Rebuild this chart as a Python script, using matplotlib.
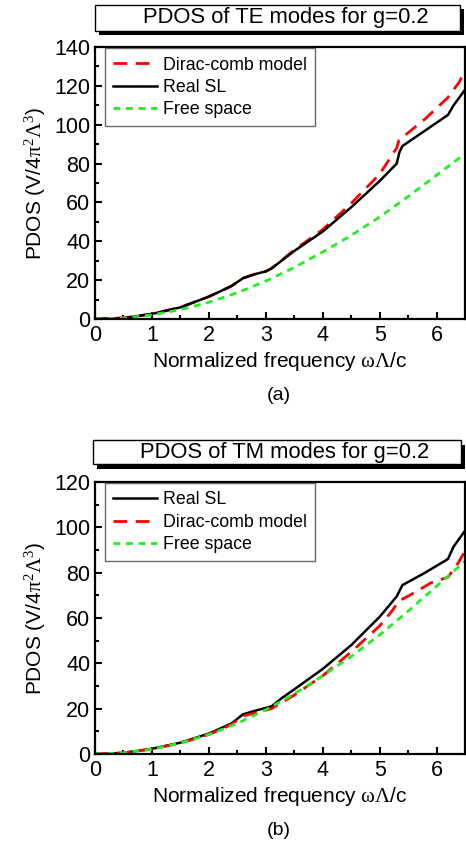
import numpy as np
import matplotlib.pyplot as plt
from matplotlib.patches import Rectangle

plt.rcParams['font.family'] = ['Liberation Sans', 'DejaVu Sans']
plt.rcParams['mathtext.fontset'] = 'custom'
plt.rcParams['mathtext.rm'] = 'Liberation Serif'
plt.rcParams['mathtext.it'] = 'Liberation Serif'

# TE panel (a)
te_w_real = [0, 0.5, 1, 1.5, 2, 2.4, 2.6, 2.8, 3.0, 3.1, 3.5, 4, 4.5, 5, 5.3, 5.35, 5.4, 5.8, 6.2, 6.3, 6.4, 6.5]
te_real = [0, 0.5, 2.6, 6, 11.5, 17, 21, 23, 24.5, 26, 35, 45, 57.5, 71, 80, 86, 89, 97, 105, 110, 114, 118]
te_w_dirac = [0, 0.5, 1, 1.5, 2, 2.4, 2.6, 2.8, 3.0, 3.1, 3.5, 4, 4.5, 5, 5.3, 5.34, 5.8, 6.2, 6.4, 6.5]
te_dirac = [0, 0.5, 2.6, 6, 11.5, 17, 21, 23, 24.5, 26, 35.5, 46, 59.5, 74.5, 88, 92, 103, 114, 122, 128]

# TM panel (b)
tm_w_real = [0, 0.5, 1, 1.5, 2, 2.4, 2.6, 2.8, 3.1, 3.3, 3.5, 4, 4.5, 5, 5.3, 5.4, 5.8, 6.2, 6.3, 6.4, 6.5]
tm_real = [0, 0.5, 2.3, 5, 9, 13.5, 17.5, 19, 21, 25, 28.5, 37.5, 48, 60.5, 69.5, 74.5, 80, 86, 91.5, 95, 98.5]
tm_w_dirac = [0, 0.5, 1, 1.5, 2, 2.4, 2.6, 2.8, 3.1, 3.5, 4, 4.5, 5, 5.2, 5.34, 5.6, 5.9, 6.2, 6.35, 6.5]
tm_dirac = [0, 0.5, 2.2, 4.8, 8.6, 13, 16.8, 18, 20, 26, 34.5, 45, 56.5, 62.5, 67.5, 71, 75.5, 78, 83, 89.5]

# free space (same in both panels)
free_w = [0, 0.5, 1, 1.5, 2, 2.5, 3, 3.5, 4, 4.5, 5, 5.5, 6, 6.5]
free = [0, 0.5, 2.1, 4.8, 8.6, 13.5, 19.5, 26.5, 34.5, 43, 52.5, 63, 74, 85]

fig = plt.figure(figsize=(4.66, 8.46), dpi=100)
H = 846.0
W = 466.0


def title_box(x0, y0, x1, y1, text):
    # black shadow first, then the white box on top (pixel coords from top-left)
    fig.patches.append(Rectangle(((x0 + 4) / W, 1 - (y1 + 4.5) / H), (x1 - x0) / W, (y1 - y0) / H,
                                 transform=fig.transFigure, facecolor='black', edgecolor='none'))
    fig.patches.append(Rectangle((x0 / W, 1 - y1 / H), (x1 - x0) / W, (y1 - y0) / H,
                                 transform=fig.transFigure, facecolor='white', edgecolor='black', lw=1.0))
    fig.text(((x0 + x1) / 2 + 8) / W, 1 - (y0 + y1) / 2 / H, text, ha='center', va='center', fontsize=15.8)


def setup(ax, ymax):
    ax.set_xlim(0, 6.5)
    ax.set_ylim(0, ymax)
    ax.set_xticks(range(0, 7))
    ax.set_xticks(np.arange(0.5, 6.5, 1.0), minor=True)
    ax.set_yticks(range(0, ymax + 1, 20))
    ax.set_yticks(range(10, ymax, 20), minor=True)
    ax.tick_params(which='both', direction='in', top=False, right=False, labelsize=15.5, width=1.5)
    ax.tick_params(which='major', length=5)
    ax.tick_params(which='minor', length=3)
    ax.tick_params(axis='x', pad=4)
    for s in ax.spines.values():
        s.set_linewidth(1.6)
    ax.set_xlabel(r'Normalized frequency $\omega\Lambda$/c', fontsize=15, labelpad=3)
    ax.set_ylabel(r'PDOS (V/4$\pi^2\Lambda^3$)', fontsize=15, labelpad=4)


def add_legend(ax):
    leg = ax.legend(loc='upper left', bbox_to_anchor=(10 / 370, 1 - 1.5 / 272), borderaxespad=0,
                    fontsize=12.8, frameon=True, fancybox=False, handlelength=2.5,
                    labelspacing=0.3, handletextpad=0.3, borderpad=0.45)
    leg.get_frame().set_edgecolor('#444444')
    leg.get_frame().set_linewidth(1.0)
    return leg


ax1 = fig.add_axes([95 / W, 1 - 319 / H, 370 / W, 272 / H])
ax1.plot(te_w_dirac, te_dirac, color='red', ls=(0, (5, 3)), lw=2, label='Dirac-comb model')
ax1.plot(te_w_real, te_real, color='black', lw=1.8, label='Real SL')
ax1.plot(free_w, free, color='#22ee22', ls=(0, (2.5, 2)), lw=2, label='Free space')
setup(ax1, 140)
add_legend(ax1)
fig.text(279 / W, 1 - 395 / H, '(a)', ha='center', va='center', fontsize=14)
title_box(95, 5, 460, 31, 'PDOS of TE modes for g=0.2')

ax2 = fig.add_axes([95 / W, 1 - 754 / H, 370 / W, 272 / H])
ax2.plot(tm_w_real, tm_real, color='black', lw=1.8, label='Real SL')
ax2.plot(tm_w_dirac, tm_dirac, color='red', ls=(0, (5, 3)), lw=2, label='Dirac-comb model')
ax2.plot(free_w, free, color='#22ee22', ls=(0, (2.5, 2)), lw=2, label='Free space')
setup(ax2, 120)
add_legend(ax2)
fig.text(279 / W, 1 - 830 / H, '(b)', ha='center', va='center', fontsize=14)
title_box(93, 440, 461, 464, 'PDOS of TM modes for g=0.2')

fig.savefig('out.png', dpi=100)
